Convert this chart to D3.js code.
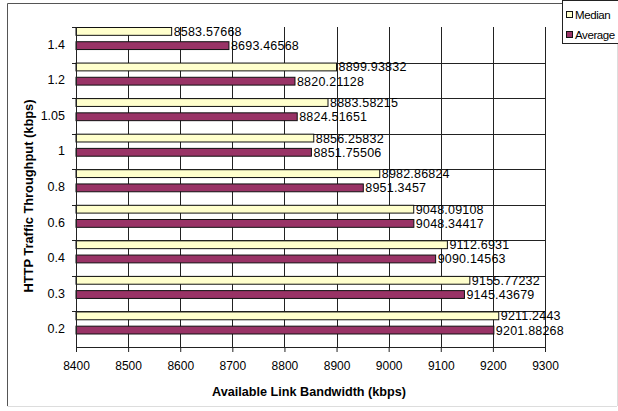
<!DOCTYPE html>
<html>
<head>
<meta charset="utf-8">
<script src="https://cdn.jsdelivr.net/npm/d3@7"></script>
<style>
  body { margin: 0; background: #fff; }
  text { font-family: Arial, "Liberation Sans", sans-serif; }
</style>
</head>
<body>
<svg id="chart" width="618" height="411"></svg>
<script>
// categories top to bottom
var categories = ["1.4", "1.2", "1.05", "1", "0.8", "0.6", "0.4", "0.3", "0.2"];
var medianVals = [8583.57668, 8899.93832, 8883.58215, 8856.25832, 8982.86824, 9048.09108, 9112.6931, 9155.77232, 9211.2443];
var averageVals = [8693.46568, 8820.21128, 8824.51651, 8851.75506, 8951.3457, 9048.34417, 9090.14563, 9145.43679, 9201.88268];
var medianLabels = ["8583.57668", "8899.93832", "8883.58215", "8856.25832", "8982.86824", "9048.09108", "9112.6931", "9155.77232", "9211.2443"];
var averageLabels = ["8693.46568", "8820.21128", "8824.51651", "8851.75506", "8951.3457", "9048.34417", "9090.14563", "9145.43679", "9201.88268"];
var seriesNames = ["Median", "Average"];
var kleuren = ["#ffffcc", "#993366"];
var xTicks = [8400, 8500, 8600, 8700, 8800, 8900, 9000, 9100, 9200, 9300];

var svg = d3.select("#chart");

var x = d3.scaleLinear().domain([8400, 9300]).range([76, 545]);
var y = d3.scaleBand().domain(categories).range([27, 347]);
var sub = d3.scaleBand().domain(seriesNames).range([0, y.bandwidth() * 0.62]).paddingInner(0.45);

// outer border
svg.append("line").attr("x1", 7.5).attr("y1", 3.5).attr("x2", 7.5).attr("y2", 406).attr("stroke", "#555");
svg.append("line").attr("x1", 7.5).attr("y1", 3.5).attr("x2", 617).attr("y2", 3.5).attr("stroke", "#555");
svg.append("line").attr("x1", 7.5).attr("y1", 406.5).attr("x2", 617).attr("y2", 406.5).attr("stroke", "#ddd");
svg.append("line").attr("x1", 617.5).attr("y1", 3.5).attr("x2", 617.5).attr("y2", 406).attr("stroke", "#ddd");

// vertical gridlines
svg.append("g")
	.selectAll("line")
	.data(xTicks)
	.enter()
	.append("line")
	.attr("x1", function(d){ return Math.round(x(d)) + 0.5; })
	.attr("x2", function(d){ return Math.round(x(d)) + 0.5; })
	.attr("y1", 27)
	.attr("y2", 347)
	.attr("stroke", "#222");

// horizontal lines between categories
var grens = categories.slice(1);
svg.append("g")
	.selectAll("line")
	.data(grens)
	.enter()
	.append("line")
	.attr("x1", 72)
	.attr("x2", 545)
	.attr("y1", function(d){ return Math.round(y(d)) + 0.5; })
	.attr("y2", function(d){ return Math.round(y(d)) + 0.5; })
	.attr("stroke", "#222");
// top tick
svg.append("line").attr("x1", 72).attr("x2", 76).attr("y1", 27.5).attr("y2", 27.5).attr("stroke", "#222");

// bars
var rijen = categories.map(function(c, i){
	return { cat: c, vals: [medianVals[i], averageVals[i]], labels: [medianLabels[i], averageLabels[i]] };
});

var groep = svg.append("g")
	.selectAll("g")
	.data(rijen)
	.enter()
	.append("g")
	.attr("transform", function(d){ return "translate(0," + y(d.cat) + ")"; });

groep.selectAll("rect")
	.data(function(d){
		return seriesNames.map(function(s, j){ return { s: s, v: d.vals[j], j: j }; });
	})
	.enter()
	.append("rect")
	.attr("x", x(8400))
	.attr("y", function(d){ return sub(d.s) + 0.5; })
	.attr("width", function(d){ return x(d.v) - x(8400); })
	.attr("height", sub.bandwidth())
	.attr("fill", function(d){ return kleuren[d.j]; })
	.attr("stroke", "#111")
	.attr("stroke-width", 1);

groep.selectAll("text")
	.data(function(d){
		return seriesNames.map(function(s, j){ return { s: s, v: d.vals[j], t: d.labels[j] }; });
	})
	.enter()
	.append("text")
	.attr("x", function(d){ return x(d.v) + 2; })
	.attr("y", function(d){ return sub(d.s) + sub.bandwidth() / 2 + 0.5; })
	.attr("dy", "0.36em")
	.attr("font-size", "12.5px")
	.attr("letter-spacing", "0.2px")
	.attr("fill", "#000")
	.text(function(d){ return d.t; });

// x axis
var xAxis = svg.append("g")
	.attr("transform", "translate(0,347)")
	.call(d3.axisBottom(x).tickValues(xTicks).tickSize(5).tickPadding(9).tickFormat(d3.format("d")));
xAxis.select(".domain").attr("stroke", "#222");
xAxis.selectAll("line").attr("stroke", "#222");
xAxis.selectAll("text").attr("font-size", "12px").attr("fill", "#000").attr("font-family", "Arial, 'Liberation Sans', sans-serif");

// y axis labels
var yAxis = svg.append("g")
	.attr("transform", "translate(76,0)")
	.call(d3.axisLeft(y).tickSize(0).tickPadding(11));
yAxis.select(".domain").attr("stroke", "#222").attr("d", "M0.5,27V347");
yAxis.selectAll("text").attr("font-size", "12.5px").attr("fill", "#000").attr("font-family", "Arial, 'Liberation Sans', sans-serif");

// axis titles
svg.append("text")
	.attr("x", 309)
	.attr("y", 396)
	.attr("text-anchor", "middle")
	.attr("font-size", "12px")
	.attr("font-weight", "bold")
	.attr("textLength", 194)
	.attr("lengthAdjust", "spacingAndGlyphs")
	.text("Available Link Bandwidth (kbps)");

svg.append("text")
	.attr("transform", "translate(33,196) rotate(-90)")
	.attr("text-anchor", "middle")
	.attr("font-size", "13px")
	.attr("font-weight", "bold")
	.attr("textLength", 193)
	.attr("lengthAdjust", "spacingAndGlyphs")
	.text("HTTP Traffic Throughput (kbps)");

// legend
var legend = svg.append("g");
legend.append("rect")
	.attr("x", 562.5).attr("y", 0.5)
	.attr("width", 70).attr("height", 43)
	.attr("fill", "#fff").attr("stroke", "#222");
var items = legend.selectAll("g")
	.data(seriesNames)
	.enter()
	.append("g")
	.attr("transform", function(d, i){ return "translate(0," + (15 + i * 20) + ")"; });
items.append("rect")
	.attr("x", 566.5).attr("y", -3.5)
	.attr("width", 6).attr("height", 6)
	.attr("fill", function(d, i){ return kleuren[i]; })
	.attr("stroke", "#111");
items.append("text")
	.attr("x", 575)
	.attr("y", 0)
	.attr("dy", "0.35em")
	.attr("font-size", "11.5px")
	.attr("letter-spacing", "-0.4px")
	.text(function(d){ return d; });
</script>
</body>
</html>
